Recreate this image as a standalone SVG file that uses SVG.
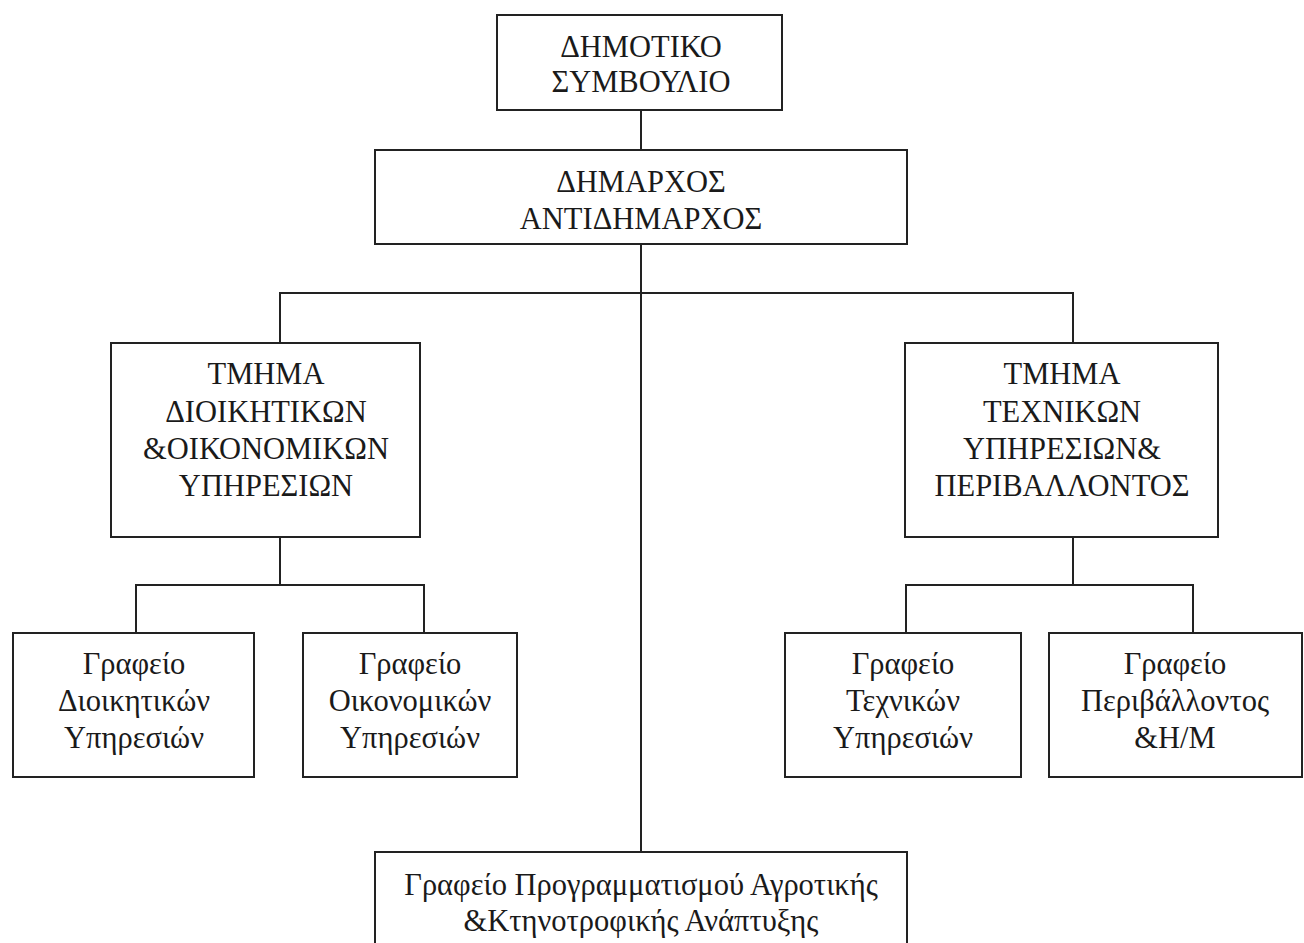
<svg xmlns="http://www.w3.org/2000/svg" width="1304" height="943" viewBox="0 0 1304 943">
  <style>
    .box { fill: #ffffff; stroke: #222222; stroke-width: 2; }
    .link { fill: none; stroke: #222222; stroke-width: 2; }
    text { font-family: "Liberation Serif", "Times New Roman", serif; font-size: 30.5px; fill: #1a1a1a; text-anchor: middle; }
  </style>
  <rect width="1304" height="943" fill="#ffffff"/>

  <!-- connectors -->
  <g id="connectors">
    <path class="link" d="M641 110 V150"/>
    <path class="link" d="M641 244 V852"/>
    <path class="link" d="M280 343 V293 H1073 V343"/>
    <path class="link" d="M280 537 V585"/>
    <path class="link" d="M136 633 V585 H424 V633"/>
    <path class="link" d="M1073 537 V585"/>
    <path class="link" d="M906 633 V585 H1193 V633"/>
  </g>

  <g id="council">
    <rect class="box" x="497" y="15" width="285" height="95"/>
    <text x="641" y="57">ΔΗΜΟΤΙΚΟ</text>
    <text x="641" y="92">ΣΥΜΒΟΥΛΙΟ</text>
  </g>

  <g id="mayor">
    <rect class="box" x="375" y="150" width="532" height="94"/>
    <text x="641" y="192">ΔΗΜΑΡΧΟΣ</text>
    <text x="641" y="229">ΑΝΤΙΔΗΜΑΡΧΟΣ</text>
  </g>

  <g id="dept-admin">
    <rect class="box" x="111" y="343" width="309" height="194"/>
    <text x="266" y="384">ΤΜΗΜΑ</text>
    <text x="266" y="422">ΔΙΟΙΚΗΤΙΚΩΝ</text>
    <text x="266" y="459">&amp;ΟΙΚΟΝΟΜΙΚΩΝ</text>
    <text x="266" y="496">ΥΠΗΡΕΣΙΩΝ</text>
  </g>

  <g id="dept-tech">
    <rect class="box" x="905" y="343" width="313" height="194"/>
    <text x="1062" y="384">ΤΜΗΜΑ</text>
    <text x="1062" y="422">ΤΕΧΝΙΚΩΝ</text>
    <text x="1062" y="459">ΥΠΗΡΕΣΙΩΝ&amp;</text>
    <text x="1062" y="496">ΠΕΡΙΒΑΛΛΟΝΤΟΣ</text>
  </g>

  <g id="office-admin">
    <rect class="box" x="13" y="633" width="241" height="144"/>
    <text x="134" y="674">Γραφείο</text>
    <text x="134" y="711">Διοικητικών</text>
    <text x="134" y="748">Υπηρεσιών</text>
  </g>

  <g id="office-finance">
    <rect class="box" x="303" y="633" width="214" height="144"/>
    <text x="410" y="674">Γραφείο</text>
    <text x="410" y="711">Οικονομικών</text>
    <text x="410" y="748">Υπηρεσιών</text>
  </g>

  <g id="office-tech">
    <rect class="box" x="785" y="633" width="236" height="144"/>
    <text x="903" y="674">Γραφείο</text>
    <text x="903" y="711">Τεχνικών</text>
    <text x="903" y="748">Υπηρεσιών</text>
  </g>

  <g id="office-env">
    <rect class="box" x="1049" y="633" width="253" height="144"/>
    <text x="1175" y="674">Γραφείο</text>
    <text x="1175" y="711">Περιβάλλοντος</text>
    <text x="1175" y="748">&amp;Η/Μ</text>
  </g>

  <g id="office-agri">
    <rect class="box" x="375" y="852" width="532" height="100"/>
    <text x="641" y="895">Γραφείο Προγραμματισμού Αγροτικής</text>
    <text x="641" y="931">&amp;Κτηνοτροφικής Ανάπτυξης</text>
  </g>
</svg>
